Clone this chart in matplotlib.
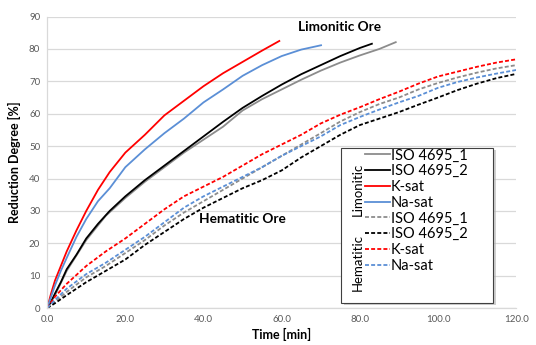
import numpy as np
import matplotlib.pyplot as plt
from matplotlib.patches import Rectangle
from matplotlib.lines import Line2D

plt.rcParams['font.family'] = ['Lato', 'DejaVu Sans']

# Limonitic ore (solid lines)
t_lim_iso1 = [0, 2, 5, 10, 15, 20, 25, 30, 35, 40, 45, 50, 55, 60, 65, 70, 75, 80, 85, 89.4]
lim_iso1 = [0, 4, 11.5, 21, 28.5, 34, 39, 43.5, 48, 52, 56, 61, 64.5, 67.5, 70.5, 73.3, 75.8, 78, 80, 82.2]

t_lim_iso2 = [0, 1, 2, 3.5, 5, 7.5, 10, 13, 16, 20, 25, 30, 35, 40, 45, 50, 55, 60, 65, 70, 75, 80, 83.3]
lim_iso2 = [0, 2, 4.5, 8, 12, 16.5, 21.5, 26, 30, 34.5, 39.5, 44, 48.5, 53, 57.5, 61.8, 65.5, 69, 72.2, 75, 77.8, 80.3, 81.7]

t_lim_k = [0, 1, 2, 3.5, 5, 7.5, 10, 13, 16, 20, 25, 30, 35, 40, 45, 50, 55, 59.6]
lim_k = [0, 4.5, 8.5, 13, 17.5, 24, 30, 36.5, 42, 48, 53.5, 59.5, 64, 68.5, 72.5, 76, 79.5, 82.6]

t_lim_na = [0, 1, 2, 3.5, 5, 7.5, 10, 13, 16, 20, 25, 30, 35, 40, 45, 50, 55, 60, 65, 70.3]
lim_na = [0, 3.5, 7, 11.5, 15.5, 22, 27.5, 33, 37, 43.5, 49, 54, 58.5, 63.5, 67.5, 71.7, 75, 77.8, 79.8, 81.2]

# Hematitic ore (dashed lines)
t_hem = [0, 2, 5, 10, 15, 20, 25, 30, 35, 40, 45, 50, 55, 60, 65, 70, 75,
         80, 85, 90, 95, 100, 105, 110, 115, 120]
hem_iso1 = [0, 2, 5, 9.5, 13, 17, 21, 25.5, 29.5, 33, 36.5, 40, 43.5, 47, 50.5, 54, 57.6,
            60.5, 63, 65, 67.5, 69.5, 71.2, 72.7, 74, 75]
hem_iso2 = [0, 1.5, 4, 8, 11.5, 15, 19.5, 23.5, 27.5, 31, 34, 37, 39.5, 42.5, 46.5, 50, 53.5,
            56.5, 58.5, 60.5, 62.8, 65, 67.3, 69.3, 71, 72.3]
hem_k = [0, 3.5, 7.5, 13, 17.5, 21.5, 26, 30.5, 34.5, 37.5, 40.5, 44, 47.5, 50.5, 53.5, 57, 59.7,
         62, 64.5, 66.8, 69.3, 71.5, 73, 74.5, 75.8, 76.8]
hem_na = [0, 2.5, 6, 10.5, 14, 18, 22, 26.5, 31, 34.5, 37.5, 40.5, 43.5, 47, 50, 53, 56.5,
          59, 61.3, 63.5, 65.5, 68, 69.8, 71.2, 72.4, 73.5]

labels = ['ISO 4695_1', 'ISO 4695_2', 'K-sat', 'Na-sat']
colors = ['#8c8c8c', '#000000', '#ff0000', '#5b8fd6']

fig = plt.figure(figsize=(5.36, 3.45), dpi=100)
ax = fig.add_axes([0.088, 0.107, 0.875, 0.845])

lim = [(t_lim_iso1, lim_iso1), (t_lim_iso2, lim_iso2), (t_lim_k, lim_k), (t_lim_na, lim_na)]
hem = [hem_iso1, hem_iso2, hem_k, hem_na]

for (t, y), c in zip(lim, colors):
    ax.plot(t, y, color=c, lw=1.3, solid_capstyle='butt')
for y, c in zip(hem, colors):
    ax.plot(t_hem, y, color=c, lw=1.3, dashes=(2.2, 1.2))

ax.set_xlim(0, 120)
ax.set_ylim(0, 90)
ax.set_xticks(np.arange(0, 121, 20))
ax.set_xticklabels(['%.1f' % v for v in np.arange(0, 121, 20)])
ax.set_yticks(np.arange(0, 91, 10))
ax.tick_params(length=0, labelsize=7, colors='#595959', pad=5)
ax.grid(axis='y', color='#d9d9d9', lw=0.9)
ax.set_axisbelow(True)
for s in ['top', 'right']:
    ax.spines[s].set_visible(False)
for s in ['left', 'bottom']:
    ax.spines[s].set_color('#d9d9d9')
    ax.spines[s].set_linewidth(0.9)

ax.set_xlabel('Time [min]', fontsize=9, fontweight='bold', labelpad=3)
ax.set_ylabel('Reduction Degree [%]', fontsize=9, fontweight='bold', labelpad=6)

ax.text(74.7, 86.8, 'Limonitic Ore', fontsize=9.8, fontweight='bold', ha='center', va='center')
ax.text(49.9, 27.4, 'Hematitic Ore', fontsize=9.8, fontweight='bold', ha='center', va='center')

# legend frame with shadow (axes fraction)
x0, x1 = (341 - 47) / 469, (493 - 47) / 469
y0, y1 = (308.5 - 303) / 291.5, (308.5 - 148) / 291.5
ax.add_patch(Rectangle((x0 + 0.006, y0 - 0.01), x1 - x0, y1 - y0, transform=ax.transAxes,
                       facecolor='#b0b0b0', edgecolor='none', zorder=4, alpha=0.6))
ax.add_patch(Rectangle((x0, y0), x1 - x0, y1 - y0, transform=ax.transAxes,
                       facecolor='white', edgecolor='#404040', lw=0.8, zorder=5))

handles = [Line2D([], [], color=c, lw=1.3) for c in colors] + \
          [Line2D([], [], color=c, lw=1.3, dashes=(2.2, 1.2)) for c in colors]
leg = ax.legend(handles, labels + labels, loc='upper left',
                bbox_to_anchor=((365 - 47) / 469, (308.5 - 149) / 291.5),
                frameon=False, fontsize=10.5, handlelength=1.7, handletextpad=0.05,
                labelspacing=0.12, borderpad=0, borderaxespad=0)
leg.set_zorder(6)

ax.text((358 - 47) / 469, (308.5 - 190) / 291.5, 'Limonitic', transform=ax.transAxes,
        rotation=90, fontsize=9.5, ha='center', va='center', zorder=7)
ax.text((358 - 47) / 469, (308.5 - 263) / 291.5, 'Hematitic', transform=ax.transAxes,
        rotation=90, fontsize=9.5, ha='center', va='center', zorder=7)

fig.savefig('out.png', dpi=100)
